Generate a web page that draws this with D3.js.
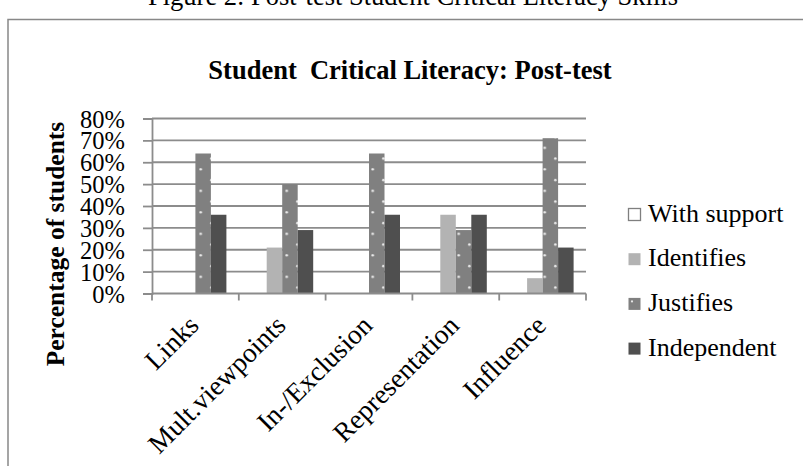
<!DOCTYPE html>
<html>
<head>
<meta charset="utf-8">
<script src="https://cdn.jsdelivr.net/npm/d3@7"></script>
<style>
  body { margin: 0; background: #fff; }
  text { font-family: "Liberation Serif", "Times New Roman", serif; fill: #000; }
</style>
</head>
<body>
<div id="chart"></div>
<script>
// categories and series (share of students, post-test)
const categories = ["Links", "Mult.viewpoints", "In-/Exclusion", "Representation", "Influence"];
const seriesNames = ["With support", "Identifies", "Justifies", "Independent"];
const withSupport = [0, 0, 0, 0, 0];
const identifies = [0, 0.21, 0, 0.36, 0.07];
const justifies = [0.64, 0.50, 0.64, 0.29, 0.71];
const independent = [0.36, 0.29, 0.36, 0.36, 0.21];
const yTicks = [0, 0.1, 0.2, 0.3, 0.4, 0.5, 0.6, 0.7, 0.8];

const seriesValues = [withSupport, identifies, justifies, independent];
const fills = {
  "With support": "#ffffff",
  "Identifies": "#b3b3b3",
  "Justifies": "url(#dots)",
  "Independent": "#4f4f4f"
};

const W = 803, H = 466;
const svg = d3.select("#chart").append("svg")
  .attr("width", W)
  .attr("height", H);

svg.append("rect").attr("width", W).attr("height", H).attr("fill", "#fff");

// dotted fill used for "Justifies"
const pat = svg.append("defs").append("pattern")
  .attr("id", "dots")
  .attr("patternUnits", "userSpaceOnUse")
  .attr("width", 21.5)
  .attr("height", 21.5);
pat.append("rect").attr("width", 21.5).attr("height", 21.5).attr("fill", "#808080");
pat.append("circle").attr("cx", 7.2).attr("cy", 18.8).attr("r", 1.3).attr("fill", "#ececec");
pat.append("circle").attr("cx", 17.9).attr("cy", 8.1).attr("r", 1.3).attr("fill", "#ececec");

// caption above the chart frame (cut at the top)
svg.append("text")
  .attr("x", 413).attr("y", 5)
  .attr("text-anchor", "middle")
  .style("font-size", "26.5px")
  .text("Figure 2: Post-test Student Critical Literacy Skills");

// chart frame
svg.append("rect")
  .attr("x", 8).attr("y", 19.5)
  .attr("width", 900).attr("height", 500)
  .attr("fill", "none")
  .attr("stroke", "#888")
  .attr("stroke-width", 1.5);

svg.append("text")
  .attr("x", 410).attr("y", 79)
  .attr("text-anchor", "middle")
  .attr("xml:space", "preserve")
  .style("white-space", "pre")
  .style("font-size", "26.5px")
  .style("font-weight", "bold")
  .text("Student  Critical Literacy: Post-test");

const plotL = 152, plotR = 586, plotB = 293.5, plotT = 118.5;

const x0 = d3.scaleBand().domain(categories).range([plotL, plotR]).padding(0);
const x1 = d3.scaleBand().domain(seriesNames).range([0, x0.bandwidth()])
  .paddingInner(0).paddingOuter(0.8);
const y = d3.scaleLinear().domain([0, 0.8]).range([plotB, plotT]);

// gridlines
svg.append("g")
  .selectAll("line")
  .data(yTicks.slice(1))
  .enter().append("line")
  .attr("x1", plotL).attr("x2", plotR)
  .attr("y1", d => y(d)).attr("y2", d => y(d))
  .attr("stroke", "#8c8c8c")
  .attr("stroke-width", 1.8);

// y axis
const yAxis = svg.append("g")
  .attr("transform", `translate(${plotL},0)`)
  .call(d3.axisLeft(y).tickValues(yTicks).tickFormat(d3.format(".0%")).tickSize(9).tickPadding(18));
yAxis.select(".domain").attr("stroke", "#8c8c8c").attr("stroke-width", 1.8);
yAxis.selectAll(".tick line").attr("stroke", "#8c8c8c").attr("stroke-width", 1.8);
yAxis.selectAll(".tick text")
  .attr("dy", "0.35em")
  .style("font-family", "'Liberation Serif', serif")
  .style("font-size", "24.5px")
  .attr("fill", "#000");

// bars
const barData = [];
categories.forEach((c, i) => {
  seriesNames.forEach((s, j) => barData.push({ c, s, v: seriesValues[j][i] }));
});

svg.append("g")
  .selectAll("rect")
  .data(barData)
  .enter().append("rect")
  .attr("x", d => x0(d.c) + x1(d.s))
  .attr("y", d => y(d.v))
  .attr("width", x1.bandwidth())
  .attr("height", d => plotB - y(d.v))
  .attr("fill", d => fills[d.s])
  .attr("stroke", d => d.s === "With support" && d.v > 0 ? "#7f7f7f" : "none");

// x axis line and ticks at category boundaries
svg.append("line")
  .attr("x1", plotL).attr("x2", plotR)
  .attr("y1", plotB).attr("y2", plotB)
  .attr("stroke", "#8c8c8c").attr("stroke-width", 1.8);
svg.append("g")
  .selectAll("line")
  .data(categories.map(c => x0(c)).concat([plotR]))
  .enter().append("line")
  .attr("x1", d => d).attr("x2", d => d)
  .attr("y1", plotB).attr("y2", plotB + 7)
  .attr("stroke", "#8c8c8c").attr("stroke-width", 1.8);

// rotated category labels
svg.append("g")
  .selectAll("text")
  .data(categories)
  .enter().append("text")
  .attr("transform", d => `translate(${x0(d) + x0.bandwidth() / 2 + 5},327) rotate(-45)`)
  .attr("text-anchor", "end")
  .style("font-size", "27.5px")
  .text(d => d);

// y axis title
svg.append("text")
  .attr("transform", "translate(64,244) rotate(-90)")
  .attr("text-anchor", "middle")
  .style("font-size", "25.5px")
  .style("font-weight", "bold")
  .text("Percentage of students");

// legend
const legend = svg.append("g")
  .selectAll("g")
  .data(seriesNames)
  .enter().append("g")
  .attr("transform", (d, i) => `translate(628,${208 + i * 44.7})`);

legend.append("rect")
  .attr("x", 0.5).attr("y", 0.5)
  .attr("width", 12).attr("height", 12)
  .attr("fill", d => d === "Justifies" ? "#808080" : fills[d])
  .attr("stroke", d => d === "With support" ? "#7f7f7f" : "none")
  .attr("stroke-width", 1.3);

legend.filter(d => d === "Justifies").append("circle")
  .attr("cx", 4).attr("cy", 4).attr("r", 1.1).attr("fill", "#e6e6e6");

legend.append("text")
  .attr("x", 20).attr("y", 13.5)
  .style("font-size", "26px")
  .text(d => d);
</script>
</body>
</html>
